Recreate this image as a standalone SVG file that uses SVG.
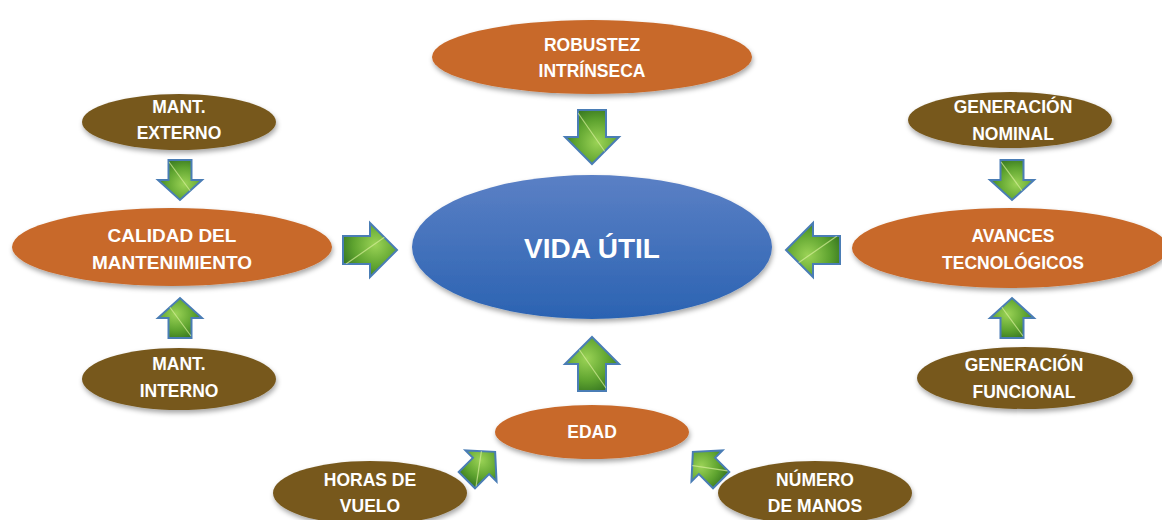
<svg xmlns="http://www.w3.org/2000/svg" width="1162" height="520" viewBox="0 0 1162 520">
<defs>
<linearGradient id="blue" x1="0" y1="0" x2="0" y2="1"><stop offset="0" stop-color="#5B80C5"/><stop offset="1" stop-color="#2B63B2"/></linearGradient>
<radialGradient id="leaf" cx="0.6" cy="0.4" r="0.75"><stop offset="0" stop-color="#9bd356"/><stop offset="0.55" stop-color="#5ea32f"/><stop offset="1" stop-color="#2c6a1d"/></radialGradient>
<filter id="sh" x="-10%" y="-10%" width="120%" height="130%"><feDropShadow dx="1" dy="3" stdDeviation="2.5" flood-color="#000" flood-opacity="0.35"/></filter>
<clipPath id="cb"><path d="M-27,-14 H0 V-27 L27,0 L0,27 V14 H-27 Z"/></clipPath>
<clipPath id="cs"><path d="M-20,-11.5 H0 V-22 L20,0 L0,22 V11.5 H-20 Z"/></clipPath>
<g id="big"><path class="a" d="M-27,-14 H0 V-27 L27,0 L0,27 V14 H-27 Z"/><path class="v" clip-path="url(#cb)" d="M-24,14 L22,-18"/></g>
<g id="small"><path class="a" d="M-20,-11.5 H0 V-22 L20,0 L0,22 V11.5 H-20 Z"/><path class="v" clip-path="url(#cs)" d="M-18,11 L16,-14"/></g>
</defs>
<style>
.o{fill:#C8692A;filter:url(#sh)}
.b{fill:#77591F;filter:url(#sh)}
.c{fill:url(#blue);filter:url(#sh)}
text{font-family:"Liberation Sans",Arial,sans-serif;font-weight:bold;font-size:17.5px;fill:#fff;text-anchor:middle}
.big{font-size:28px}
.l{font-size:19px}
.a{fill:url(#leaf);stroke:#4A7DB5;stroke-width:2;stroke-linejoin:miter}
.v{fill:none;stroke:#d6ee9a;stroke-width:1.2;opacity:0.7}
</style>
<rect width="1162" height="520" fill="#fff"/>
<g id="connectors">
<use href="#big" transform="translate(592,137) rotate(90)"/>
<use href="#big" transform="translate(370,250)"/>
<use href="#big" transform="translate(813,250) rotate(180)"/>
<use href="#big" transform="translate(592,364) rotate(-90)"/>
<use href="#small" transform="translate(180,180) rotate(90)"/>
<use href="#small" transform="translate(180,318) rotate(-90)"/>
<use href="#small" transform="translate(1012,180) rotate(90)"/>
<use href="#small" transform="translate(1012,318) rotate(-90)"/>
<use href="#small" transform="translate(481,466) rotate(-45)"/>
<use href="#small" transform="translate(707,466) rotate(-135)"/>
</g>
<g id="vida"><ellipse class="c" cx="592" cy="247" rx="180" ry="72"/><text class="big" x="592" y="258">VIDA ÚTIL</text></g>
<g id="robustez"><ellipse class="o" cx="592" cy="57" rx="160" ry="37"/><text x="592" y="51">ROBUSTEZ</text><text x="592" y="77">INTRÍNSECA</text></g>
<g id="mantext"><ellipse class="b" cx="179" cy="122" rx="97" ry="28"/><text x="179" y="113">MANT.</text><text x="179" y="139">EXTERNO</text></g>
<g id="calidad"><ellipse class="o" cx="172" cy="247" rx="160" ry="39"/><text class="l" x="172" y="242">CALIDAD DEL</text><text class="l" x="172" y="269">MANTENIMIENTO</text></g>
<g id="mantint"><ellipse class="b" cx="179" cy="379" rx="97" ry="31"/><text x="179" y="370">MANT.</text><text x="179" y="397">INTERNO</text></g>
<g id="gennom"><ellipse class="b" cx="1010" cy="120" rx="102" ry="28"/><text x="1013" y="113">GENERACIÓN</text><text x="1013" y="140">NOMINAL</text></g>
<g id="avances"><ellipse class="o" cx="1010" cy="248" rx="158" ry="40"/><text x="1013" y="242">AVANCES</text><text x="1013" y="269">TECNOLÓGICOS</text></g>
<g id="genfun"><ellipse class="b" cx="1025" cy="378" rx="108" ry="31"/><text x="1024" y="371">GENERACIÓN</text><text x="1024" y="398">FUNCIONAL</text></g>
<g id="edad"><ellipse class="o" cx="592" cy="432" rx="97" ry="27"/><text x="592" y="438">EDAD</text></g>
<g id="horas"><ellipse class="b" cx="370" cy="493" rx="97" ry="32"/><text x="370" y="486">HORAS DE</text><text x="370" y="512">VUELO</text></g>
<g id="numero"><ellipse class="b" cx="815" cy="493" rx="97" ry="32"/><text x="815" y="486">NÚMERO</text><text x="815" y="512">DE MANOS</text></g>
</svg>
